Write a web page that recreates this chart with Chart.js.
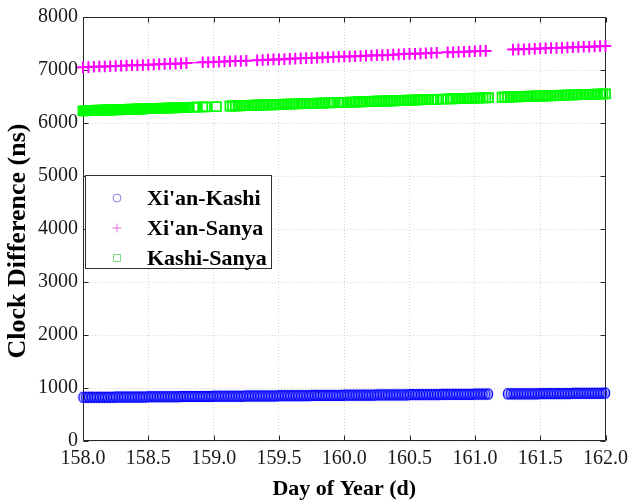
<!DOCTYPE html>
<html>
<head>
<meta charset="utf-8">
<script src="https://cdn.jsdelivr.net/npm/chart.js@4/dist/chart.umd.min.js"></script>
<style>
  html, body { margin: 0; padding: 0; background: #ffffff; }
  #wrap { width: 634px; height: 504px; }
</style>
</head>
<body>
<div id="wrap"><canvas id="c"></canvas></div>
<script>
// ---- data -------------------------------------------------------------
const seriesNames = ["Xi'an-Kashi", "Xi'an-Sanya", "Kashi-Sanya"];
const xAxisTitle = 'Day of Year (d)';
const yAxisTitle = 'Clock Difference (ns)';

const xTickValues = [158.0, 158.5, 159.0, 159.5, 160.0, 160.5, 161.0, 161.5, 162.0];
const xTickLabels = ['158.0', '158.5', '159.0', '159.5', '160.0', '160.5', '161.0', '161.5', '162.0'];
const yTickValues = [0, 1000, 2000, 3000, 4000, 5000, 6000, 7000, 8000];
const yTickLabels = ['0', '1000', '2000', '3000', '4000', '5000', '6000', '7000', '8000'];

// epochs start at day 158.0; null marks an epoch with no solution
const startDay = 158.0;
const halfHour = 1 / 48;
const oneHour = 1 / 24;

// Xi'an-Kashi clock difference (ns), every 30 min
const xianKashi = [
  825, 825, 825, 825, 825, 825, 825, 825, 825, 825, 825, 825,
  830, 830, 830, 830, 830, 830, 830, 830, 830, 830, 830, 830,
  835, 835, 835, 835, 835, 835, 835, 835, 835, 835, 835, 835,
  840, 840, 840, 840, 840, 840, 840, 840, 840, 840, 840, 840,
  845, 845, 845, 845, 845, 845, 845, 845, 845, 845, 845, 845,
  850, 850, 850, 850, 850, 850, 850, 850, 850, 850, 850, 850,
  855, 855, 855, 855, 855, 855, 855, 855, 855, 855, 855, 855,
  860, 860, 860, 860, 860, 860, 860, 860, 860, 860, 860, 860,
  865, 865, 865, 865, 865, 865, 865, 865, 865, 865, 865, 865,
  870, 870, 870, 870, 870, 870, 870, 870, 870, 870, 870, 870,
  875, 875, 875, 875, 875, 875, 875, 875, 875, 875, 875, 875,
  880, 880, 880, 880, 880, 880, 880, 880, 880, 880, 880, 880,
  885, 885, 885, 885, 885, 885, null, null, null, null, null, null,
  890, 890, 890, 890, 890, 890, 890, 890, 890, 890, 890, 890,
  895, 895, 895, 895, 895, 895, 895, 895, 895, 895, 895, 895,
  900, 900, 900, 900, 900, 900, 900, 900, 900, 900, 900, 900,
  905
];

// Xi'an-Sanya clock difference (ns), hourly
const xianSanya = [
  7050, 7055, 7060, 7065, 7065, 7070, 7075, 7080, 7085, 7090, 7090, 7095,
  7100, 7105, 7110, 7115, 7120, 7120, 7125, 7130, null, null, 7145, 7145,
  7150, 7155, 7160, 7165, 7170, 7170, 7175, null, 7185, 7190, 7195, 7200,
  7200, 7205, 7210, 7215, 7220, 7225, 7225, 7230, 7235, 7240, 7245, 7250,
  7255, 7255, 7260, 7265, 7270, 7275, 7280, 7280, 7285, 7290, 7295, 7300,
  7305, 7305, 7310, 7315, 7320, 7325, null, 7335, 7335, 7340, 7345, 7350,
  7355, 7360, 7360, null, null, null, null, 7385, 7390, 7390, 7395, 7400,
  7405, 7410, 7415, 7415, 7420, 7425, 7430, 7435, 7440, 7440, 7445, 7450,
  7455
];

// Kashi-Sanya clock difference (ns), every 30 min
const kashiSanya = [
  6230, 6230, 6235, 6235, 6235, 6240, 6240, 6240, 6245, 6245, 6245, 6250,
  6250, 6250, 6255, 6255, 6255, 6260, 6260, 6260, 6265, 6265, 6265, 6270,
  6270, 6270, 6275, 6275, 6275, 6280, 6280, 6280, 6285, 6285, 6285, 6290,
  6290, 6290, 6295, 6295, null, 6300, 6300, null, 6305, 6305, null, null,
  null, 6310, null, null, null, null, 6320, 6320, 6325, 6325, 6325, 6330,
  6330, 6330, 6335, 6335, 6335, 6340, 6340, 6340, 6345, 6345, 6345, 6350,
  6350, 6350, 6355, 6355, 6355, 6360, 6360, 6360, 6365, 6365, 6365, 6370,
  6370, 6370, 6375, 6375, 6375, 6380, 6380, 6380, 6385, null, 6385, 6390,
  6390, 6390, 6395, 6395, 6395, 6400, 6400, 6400, 6405, 6405, 6405, 6410,
  6410, 6410, 6415, 6415, 6415, 6420, 6420, 6420, 6425, 6425, 6425, 6430,
  6430, 6430, 6435, 6435, 6435, 6440, 6440, 6440, 6445, 6445, 6445, null,
  6450, null, 6455, 6455, 6455, 6460, 6460, 6460, 6465, 6465, 6465, 6470,
  6470, 6470, 6475, 6475, 6475, 6480, null, null, null, null, 6485, 6490,
  6490, 6490, 6495, 6495, 6495, 6500, 6500, 6500, 6505, 6505, 6505, 6510,
  6510, 6510, 6515, 6515, 6515, 6520, 6520, 6520, 6525, 6525, 6525, 6530,
  6530, 6530, 6535, 6535, 6535, 6540, 6540, 6540, 6545, 6545, 6545, 6550,
  6550
];

// turn a value list on a regular epoch grid into {x, y} points, dropping empty epochs
function toPoints(values, step) {
  const pts = [];
  values.forEach((v, i) => {
    if (v !== null) pts.push({ x: startDay + i * step, y: v });
  });
  return pts;
}

// ---- styling ----------------------------------------------------------
const serif = "'Liberation Serif', 'Times New Roman', serif";
const colors = { blue: '#0000ff', magenta: '#ff00ff', green: '#00ff00' };

// slightly tall hollow ellipse used as the circle marker
function ellipseMarker(w, h, color, lw) {
  const c = document.createElement('canvas');
  c.width = w + 2 * lw + 2;
  c.height = h + 2 * lw + 2;
  const g = c.getContext('2d');
  g.strokeStyle = color;
  g.lineWidth = lw;
  g.beginPath();
  g.ellipse(c.width / 2, c.height / 2, w / 2, h / 2, 0, 0, Math.PI * 2);
  g.stroke();
  return c;
}

// box around the axes with inward-pointing tick marks on all four sides
const frameTicks = {
  id: 'frameTicks',
  beforeDatasetsDraw(chart) {
    const { ctx, chartArea, scales } = chart;
    const { left, right, top, bottom } = chartArea;
    const L = Math.round(left) + 0.5, R = Math.round(right) - 0.5;
    const T = Math.round(top) + 0.5, B = Math.round(bottom) - 0.5;
    const len = 5;
    ctx.save();
    ctx.strokeStyle = '#262626';
    ctx.lineWidth = 1;
    ctx.beginPath();
    ctx.rect(L, T, R - L, B - T);
    xTickValues.forEach(v => {
      const px = Math.round(scales.x.getPixelForValue(v)) + 0.5;
      ctx.moveTo(px, B); ctx.lineTo(px, B - len);
      ctx.moveTo(px, T); ctx.lineTo(px, T + len);
    });
    yTickValues.forEach(v => {
      const py = Math.round(scales.y.getPixelForValue(v)) + 0.5;
      ctx.moveTo(L, py); ctx.lineTo(L + len, py);
      ctx.moveTo(R, py); ctx.lineTo(R - len, py);
    });
    ctx.stroke();
    ctx.restore();
  }
};

// rotated y-axis title, centred a little below the middle of the plot
const yTitle = {
  id: 'yTitle',
  afterDraw(chart) {
    const { ctx } = chart;
    ctx.save();
    ctx.translate(18, 241);
    ctx.rotate(-Math.PI / 2);
    ctx.font = 'bold 26px ' + serif;
    ctx.fillStyle = '#000000';
    ctx.textAlign = 'center';
    ctx.textBaseline = 'middle';
    ctx.fillText(yAxisTitle, 0, 0);
    ctx.restore();
  }
};

// boxed legend inside the plot area, left side
const boxLegend = {
  id: 'boxLegend',
  afterDraw(chart) {
    const { ctx } = chart;
    const bx = 85.5, by = 175.5, bw = 186, bh = 93;
    const mx = 117, tx = 147, rows = [198, 228, 258];
    ctx.save();
    ctx.fillStyle = '#ffffff';
    ctx.fillRect(bx, by, bw, bh);
    ctx.strokeStyle = '#303030';
    ctx.lineWidth = 1;
    ctx.strokeRect(bx, by, bw, bh);

    ctx.lineWidth = 1;
    // circle
    ctx.strokeStyle = '#8484dc';
    ctx.beginPath();
    ctx.arc(mx, rows[0], 4, 0, Math.PI * 2);
    ctx.stroke();
    // plus
    ctx.strokeStyle = '#e46ee4';
    ctx.beginPath();
    ctx.moveTo(mx - 4.5, rows[1]); ctx.lineTo(mx + 4.5, rows[1]);
    ctx.moveTo(mx, rows[1] - 4.5); ctx.lineTo(mx, rows[1] + 4.5);
    ctx.stroke();
    // square
    ctx.strokeStyle = '#7edc7e';
    ctx.strokeRect(mx - 3.5, rows[2] - 3.5, 7, 7);

    ctx.fillStyle = '#000000';
    ctx.font = 'bold 22px ' + serif;
    ctx.textBaseline = 'middle';
    ctx.textAlign = 'left';
    seriesNames.forEach((name, i) => ctx.fillText(name, tx, rows[i] + 1));
    ctx.restore();
  }
};

new Chart(document.getElementById('c'), {
  type: 'line',
  data: {
    datasets: [
      {
        label: seriesNames[0],
        data: toPoints(xianKashi, halfHour),
        showLine: false,
        pointStyle: ellipseMarker(8, 10, colors.blue, 1.6),
        pointRadius: 5,
        clip: false
      },
      {
        label: seriesNames[1],
        data: toPoints(xianSanya, oneHour),
        showLine: true,
        spanGaps: 0.15,
        borderColor: colors.magenta,
        borderWidth: 1.2,
        pointStyle: 'cross',
        pointRadius: 5.8,
        pointBorderWidth: 2,
        pointBorderColor: colors.magenta,
        clip: false
      },
      {
        label: seriesNames[2],
        data: toPoints(kashiSanya, halfHour),
        showLine: false,
        pointStyle: 'rect',
        pointRadius: 6.4,
        pointBorderWidth: 1.8,
        pointBorderColor: colors.green,
        // the densely logged first stretch shows as a solid band
        pointBackgroundColor: ctx => (ctx.raw && ctx.raw.x < 158.78 ? colors.green : 'rgba(0,0,0,0)'),
        clip: false
      }
    ]
  },
  options: {
    responsive: true,
    maintainAspectRatio: false,
    animation: false,
    events: [],
    layout: { padding: { top: 14, right: 26, left: 0, bottom: 0 } },
    plugins: { legend: { display: false }, tooltip: { enabled: false } },
    scales: {
      x: {
        type: 'linear',
        min: 158,
        max: 162,
        afterBuildTicks: s => { s.ticks = xTickValues.map(v => ({ value: v })); },
        afterFit: s => { s.height = 63; },
        ticks: {
          callback: (v, i) => xTickLabels[i],
          font: { family: serif, size: 20 },
          color: '#1a1a1a',
          padding: 6,
          maxRotation: 0,
          autoSkip: false
        },
        grid: { color: '#d4d4d4', lineWidth: 1, drawTicks: false },
        border: { display: false, dash: [1, 2] },
        title: {
          display: true,
          text: xAxisTitle,
          font: { family: serif, size: 22, weight: 'bold' },
          color: '#000000',
          padding: { top: 0, bottom: 1 }
        }
      },
      y: {
        type: 'linear',
        min: 0,
        max: 8000,
        afterBuildTicks: s => { s.ticks = yTickValues.map(v => ({ value: v })); },
        afterFit: s => { s.width = 83; },
        ticks: {
          callback: (v, i) => yTickLabels[i],
          font: { family: serif, size: 20 },
          color: '#1a1a1a',
          padding: 5,
          autoSkip: false
        },
        grid: { color: '#d4d4d4', lineWidth: 1, drawTicks: false },
        border: { display: false, dash: [1, 2] },
        title: { display: false }
      }
    }
  },
  plugins: [frameTicks, yTitle, boxLegend]
});
</script>
</body>
</html>
